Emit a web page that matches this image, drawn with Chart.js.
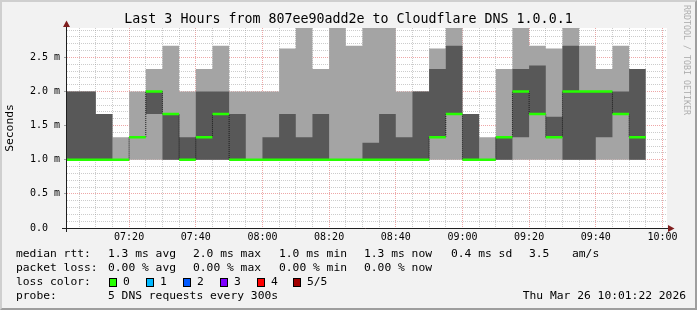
<!DOCTYPE html>
<html><head><meta charset="utf-8">
<script src="https://cdn.jsdelivr.net/npm/chart.js@4.4.1/dist/chart.umd.min.js"></script>
<style>
html,body{margin:0;padding:0;}
body{width:697px;height:310px;position:relative;overflow:hidden;background:#f2f2f2;font-family:"DejaVu Sans Mono",monospace;color:#000;}
#frame{position:absolute;left:0;top:0;width:697px;height:310px;box-sizing:border-box;border-top:2px solid #cfcfcf;border-left:2px solid #cfcfcf;border-right:2px solid #9e9e9e;border-bottom:2px solid #9e9e9e;}
canvas{position:absolute;left:0;top:0;}
.t{position:absolute;white-space:pre;}
.sw{position:absolute;width:8px;height:9px;box-sizing:border-box;border:1px solid #000;}
</style></head><body>
<div id="frame"></div>
<canvas id="c" width="697" height="310"></canvas>
<div id="texts"></div>
<script>
// ---- data ----
const titleText = 'Last 3 Hours from 807ee90add2e to Cloudflare DNS 1.0.0.1';
const windowStart = '07:01:22';
const windowEnd = '10:01:22';
const stepMin = 5;
const binEnd = ['07:05','07:10','07:15','07:20','07:25','07:30','07:35','07:40','07:45','07:50','07:55',
  '08:00','08:05','08:10','08:15','08:20','08:25','08:30','08:35','08:40','08:45','08:50','08:55',
  '09:00','09:05','09:10','09:15','09:20','09:25','09:30','09:35','09:40','09:45','09:50','09:55'];
// sorted ping times per step (ms): p1 <= p2 <= median <= p4 <= p5
const pingMin  = [1,1,1,1,1,1,1,1,1,1,1, 1,1,1,1,1,1,1,1,1,1,1,1, 1,1,1,1,1,1,1,1,1,1,1,1];
const pingLow  = [1,1,1,1,1.33,1.67,1,1,1,1,1, 1,1,1,1,1,1,1,1,1,1,1,1.33, 1.67,1,1,1,1.33,1.67,1.33,1,1,1.33,1.67,1];
const median   = [1,1,1,1,1.33,2.0,1.67,1,1.33,1.67,1, 1,1,1,1,1,1,1,1,1,1,1,1.33, 1.67,1,1,1.33,2.0,1.67,1.33,2.0,2.0,2.0,1.67,1.33];
const pingHigh = [2,2,1.67,1,1.33,2,1.67,1.33,2,2,1.67, 1,1.33,1.67,1.33,1.67,1,1,1.25,1.67,1.33,2,2.33, 2.67,1.67,1,1.33,2.33,2.38,1.63,2.67,2,2,2,2.33];
const pingMax  = [2,2,1.67,1.33,2,2.33,2.67,2,2.33,2.67,2, 2,2,2.63,3,2.33,3,2.67,3,3,2,2,2.63, 3,1.67,1.33,2.33,3,2.67,2.63,3,2.67,2.33,2.67,2.33];
const yMax = 2.93;
const xTickLabels = ['07:20','07:40','08:00','08:20','08:40','09:00','09:20','09:40','10:00'];
const yTickValues = [0, 0.5, 1.0, 1.5, 2.0, 2.5];
const yTickLabels = ['0.0', '0.5 m', '1.0 m', '1.5 m', '2.0 m', '2.5 m'];
const lossColors = ['#26ff00','#00b8ff','#0059ff','#7e00ff','#ff0000','#a10000'];
const lossLabels = ['0','1','2','3','4','5/5'];
const rttStats = ['1.3 ms avg','2.0 ms max','1.0 ms min','1.3 ms now','0.4 ms sd','3.5','am/s'];
const lossStats = ['0.00 % avg','0.00 % max','0.00 % min','0.00 % now'];
const probeText = '5 DNS requests every 300s';
const stampText = 'Thu Mar 26 10:01:22 2026';

// ---- helpers ----
const toMin = s => { const p = s.split(':').map(Number); return p[0]*60 + p[1] + (p[2]||0)/60; };
const ends = binEnd.map(toMin);
function stepSeries(vals){ const pts=[]; ends.forEach((e,i)=>{ pts.push({x:e-stepMin,y:vals[i]},{x:e,y:vals[i]}); }); return pts; }
function segSeries(vals){ const pts=[]; ends.forEach((e,i)=>{ pts.push({x:e-stepMin,y:vals[i]},{x:e,y:vals[i]},{x:e,y:null}); }); return pts; }
const xMin = toMin(windowStart), xMax = toMin(windowEnd);
const xMajor = xTickLabels.map(toMin);
const xGrid = []; for (let t = Math.ceil(xMin/5)*5; t <= xMax; t += 5) xGrid.push(t);
const yGrid = []; for (let i = 0; i/10 <= yMax; i++) yGrid.push(i/10);
const MINOR = 'rgba(143,143,143,0.45)';
const MAJOR = 'rgba(222,79,79,0.5)';
const isX = v => xMajor.some(m => Math.abs(m - v) < 1e-6);
const yIdx = v => yTickValues.findIndex(t => Math.abs(t - v) < 1e-6);
const FONT = '"DejaVu Sans Mono", monospace';

const rrdPlugin = {
  id: 'rrd',
  beforeDraw(chart){
    const {ctx, chartArea:a} = chart;
    ctx.save(); ctx.fillStyle = '#ffffff';
    ctx.fillRect(a.left, a.top, a.right - a.left, a.bottom - a.top);
    ctx.restore();
  },
  afterDraw(chart){
    const {ctx, chartArea:a} = chart;
    ctx.save();
    ctx.strokeStyle = '#1f1f1f'; ctx.lineWidth = 1;
    const ax = a.left - 0.5, ay = a.bottom + 0.5;
    ctx.beginPath(); ctx.moveTo(a.left - 5, ay); ctx.lineTo(a.right + 2, ay); ctx.stroke();
    ctx.beginPath(); ctx.moveTo(ax, a.bottom + 4); ctx.lineTo(ax, a.top - 2); ctx.stroke();
    ctx.fillStyle = '#801f1f';
    ctx.beginPath(); ctx.moveTo(ax - 3.5, a.top - 1); ctx.lineTo(ax + 3.5, a.top - 1); ctx.lineTo(ax, a.top - 7.5); ctx.closePath(); ctx.fill();
    ctx.beginPath(); ctx.moveTo(a.right + 1, ay - 3.5); ctx.lineTo(a.right + 1, ay + 3.5); ctx.lineTo(a.right + 7.5, ay); ctx.closePath(); ctx.fill();
    ctx.restore();
  }
};

const base = {pointRadius:0, pointHoverRadius:0, borderWidth:0, borderColor:'rgba(0,0,0,0)', tension:0, spanGaps:false, fill:false};
new Chart(document.getElementById('c'), {
  type: 'line',
  data: { datasets: [
    {...base, label:'median', data: segSeries(median), borderColor: lossColors[0], borderWidth: 2.5},
    {...base, label:'median step', data: stepSeries(median), borderColor:'#1a1a1a', borderWidth:1, borderDash:[1,1]},
    {...base, label:'p4', data: stepSeries(pingHigh), fill:'+1', backgroundColor:'#585858'},
    {...base, label:'p2', data: stepSeries(pingLow)},
    {...base, label:'p5', data: stepSeries(pingMax), fill:'+1', backgroundColor:'#a4a4a4'},
    {...base, label:'p1', data: stepSeries(pingMin)}
  ]},
  options: {
    responsive:false, animation:false, devicePixelRatio:1,
    layout:{padding:{top:28, right:30, bottom:0, left:0}},
    plugins:{legend:{display:false}, tooltip:{enabled:false}, colors:{enabled:false}},
    scales:{
      x:{type:'linear', min:xMin, max:xMax, z:1,
        afterBuildTicks: s => { s.ticks = xGrid.map(v => ({value:v})); },
        afterFit: s => { s.height = 82; },
        grid:{color: c => isX(c.tick.value) ? MAJOR : MINOR, lineWidth:1, drawTicks:false},
        border:{display:false, dash:[1,1]},
        ticks:{autoSkip:false, maxRotation:0, padding:3, color:'#000', font:{family:FONT, size:10},
          callback: v => { const i = xMajor.findIndex(m => Math.abs(m - v) < 1e-6); return i >= 0 ? xTickLabels[i] : ''; }}
      },
      y:{type:'linear', min:0, max:yMax, z:1,
        afterBuildTicks: s => { s.ticks = yGrid.map(v => ({value:v})); },
        afterFit: s => { s.width = 67; },
        grid:{color: c => yIdx(c.tick.value) >= 0 ? MAJOR : MINOR, lineWidth:1, drawTicks:true, tickLength:3,
          tickColor: c => yIdx(c.tick.value) >= 0 ? '#a0a0a0' : 'rgba(0,0,0,0)'},
        border:{display:false, dash:[1,1]},
        ticks:{autoSkip:false, padding:4, color:'#000', font:{family:FONT, size:10},
          callback: v => { const i = yIdx(v); return i >= 0 ? yTickLabels[i].padEnd(5) : ''; }}
      }
    }
  },
  plugins:[rrdPlugin]
});

// ---- text (HTML) ----
const T = document.getElementById('texts');
function txt(s, left, top, size, extra){ const d = document.createElement('div'); d.className='t'; d.textContent=s;
  d.style.left=left+'px'; d.style.top=top+'px'; d.style.fontSize=size+'px'; d.style.lineHeight='14px';
  if (extra) Object.assign(d.style, extra); T.appendChild(d); return d; }
txt(titleText, 0, 11, 13.3, {width:'697px', textAlign:'center', lineHeight:'16px'});
txt('Seconds', -20, 121, 11.3, {width:'60px', textAlign:'center', transform:'rotate(-90deg)'});
txt('RRDTOOL / TOBI OETIKER', 632, 55, 8.3, {width:'110px', textAlign:'center', lineHeight:'10px', color:'rgba(0,0,0,0.3)', transform:'rotate(90deg)'});
const LS = 11.3;
const rowTop = [247, 261, 275, 289];
txt('median rtt:', 16, rowTop[0], LS);
[108,193,279,364,451,529,572].forEach((x,i)=> txt(rttStats[i], x, rowTop[0], LS));
txt('packet loss:', 16, rowTop[1], LS);
[108,193,279,364].forEach((x,i)=> txt(lossStats[i], x, rowTop[1], LS));
txt('loss color:', 16, rowTop[2], LS);
[109,146,183,220,257,293].forEach((x,i)=>{
  const s = document.createElement('div'); s.className='sw'; s.style.left=x+'px'; s.style.top=(rowTop[2]+3)+'px';
  s.style.background = lossColors[i]; T.appendChild(s);
  txt(lossLabels[i], x + 14, rowTop[2], LS);
});
txt('probe:', 16, rowTop[3], LS);
txt(probeText, 108, rowTop[3], LS);
txt(stampText, 0, rowTop[3], LS, {width:'686px', textAlign:'right'});
</script>
</body></html>
